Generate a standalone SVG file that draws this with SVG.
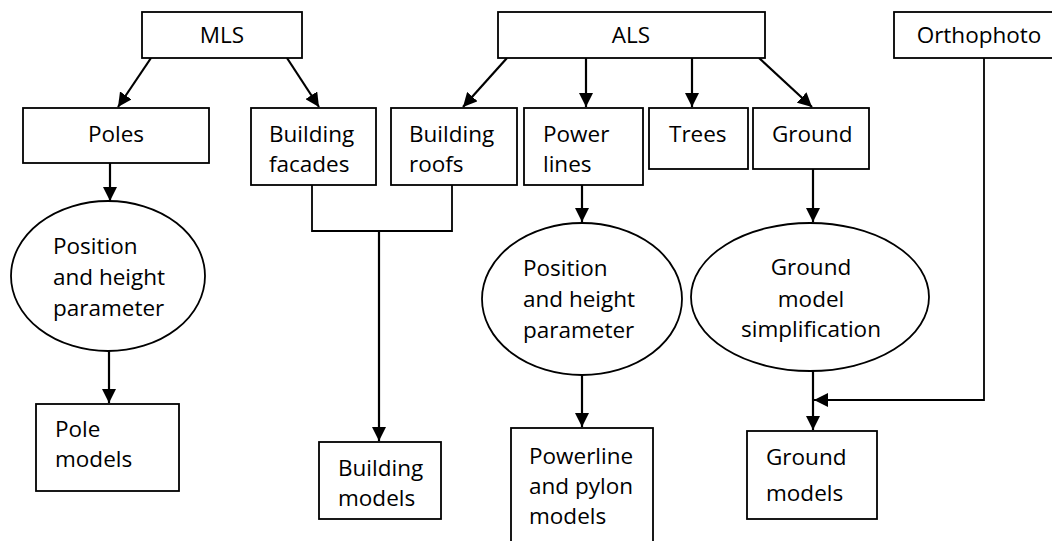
<svg xmlns="http://www.w3.org/2000/svg" width="1052" height="541" viewBox="0 0 1052 541">
<style>
.box{fill:#fff;stroke:#000;stroke-width:1.8}
.t{font-family:"Open Sans","Liberation Sans",sans-serif;font-size:22.5px;fill:#000}
.c{text-anchor:middle}
.ln{fill:none;stroke:#000;stroke-width:2.2}
.ln1{fill:none;stroke:#000;stroke-width:1.8}
</style>
<defs>
<marker id="ah" viewBox="0 0 14 14" refX="14" refY="7" markerWidth="14" markerHeight="14" markerUnits="userSpaceOnUse" orient="auto">
<path d="M0,0 L14,7 L0,14 Z" fill="#000"/>
</marker>
</defs>
<rect width="1052" height="541" fill="#fff"/>
<g id="connectors">
<line class="ln" x1="151" y1="58" x2="118" y2="107" marker-end="url(#ah)"/>
<line class="ln" x1="287" y1="58" x2="319" y2="107" marker-end="url(#ah)"/>
<line class="ln" x1="507" y1="58" x2="463" y2="107" marker-end="url(#ah)"/>
<line class="ln" x1="586" y1="58" x2="586" y2="107" marker-end="url(#ah)"/>
<line class="ln" x1="692" y1="58" x2="692" y2="107" marker-end="url(#ah)"/>
<line class="ln" x1="759" y1="58" x2="812" y2="107" marker-end="url(#ah)"/>
<line class="ln" x1="110" y1="163" x2="110" y2="201" marker-end="url(#ah)"/>
<line class="ln" x1="109" y1="351" x2="109" y2="403" marker-end="url(#ah)"/>
<polyline class="ln1" points="312,185 312,231 452,231 452,185"/>
<line class="ln" x1="379" y1="231" x2="379" y2="441" marker-end="url(#ah)"/>
<line class="ln" x1="582" y1="185" x2="582" y2="222" marker-end="url(#ah)"/>
<line class="ln" x1="582" y1="375" x2="582" y2="427" marker-end="url(#ah)"/>
<line class="ln" x1="813" y1="169" x2="813" y2="222" marker-end="url(#ah)"/>
<line class="ln" x1="813" y1="371" x2="813" y2="430" marker-end="url(#ah)"/>
<polyline class="ln1" points="984,58 984,400 814,400" marker-end="url(#ah)"/>
</g>
<g id="mls"><rect class="box" x="142" y="12" width="160" height="46"/><text class="t c" x="222" y="43">MLS</text></g>
<g id="als"><rect class="box" x="498" y="12" width="267" height="46"/><text class="t c" x="631" y="43">ALS</text></g>
<g id="orthophoto"><rect class="box" x="894" y="12" width="170" height="46"/><text class="t c" x="979" y="43">Orthophoto</text></g>
<g id="poles"><rect class="box" x="23" y="108" width="186" height="55"/><text class="t c" x="116" y="142">Poles</text></g>
<g id="facades"><rect class="box" x="251" y="108" width="125" height="77"/><text class="t" x="269" y="142">Building</text><text class="t" x="269" y="172">facades</text></g>
<g id="roofs"><rect class="box" x="391" y="108" width="126" height="77"/><text class="t" x="409" y="142">Building</text><text class="t" x="409" y="172">roofs</text></g>
<g id="powerlines"><rect class="box" x="524" y="108" width="119" height="77"/><text class="t" x="543" y="142">Power</text><text class="t" x="543" y="172">lines</text></g>
<g id="trees"><rect class="box" x="649" y="108" width="99" height="61"/><text class="t" x="669" y="142">Trees</text></g>
<g id="ground"><rect class="box" x="753" y="108" width="116" height="61"/><text class="t" x="772" y="142">Ground</text></g>
<g id="param1"><ellipse class="box" cx="108" cy="276" rx="97" ry="75"/><text class="t" x="53" y="254">Position</text><text class="t" x="53" y="285">and height</text><text class="t" x="53" y="316">parameter</text></g>
<g id="param2"><ellipse class="box" cx="582" cy="299" rx="100" ry="76"/><text class="t" x="523" y="276">Position</text><text class="t" x="523" y="307">and height</text><text class="t" x="523" y="338">parameter</text></g>
<g id="simplification"><ellipse class="box" cx="810" cy="297" rx="119" ry="74"/><text class="t c" x="811" y="275">Ground</text><text class="t c" x="811" y="307">model</text><text class="t c" x="811" y="337">simplification</text></g>
<g id="polemodels"><rect class="box" x="36" y="404" width="143" height="87"/><text class="t" x="55" y="437">Pole</text><text class="t" x="55" y="467">models</text></g>
<g id="buildingmodels"><rect class="box" x="319" y="442" width="122" height="77"/><text class="t" x="338" y="476">Building</text><text class="t" x="338" y="506">models</text></g>
<g id="powerlinemodels"><rect class="box" x="511" y="428" width="142" height="120"/><text class="t" x="529" y="464">Powerline</text><text class="t" x="529" y="494">and pylon</text><text class="t" x="529" y="524">models</text></g>
<g id="groundmodels"><rect class="box" x="747" y="431" width="130" height="88"/><text class="t" x="766" y="465">Ground</text><text class="t" x="766" y="501">models</text></g>
</svg>
